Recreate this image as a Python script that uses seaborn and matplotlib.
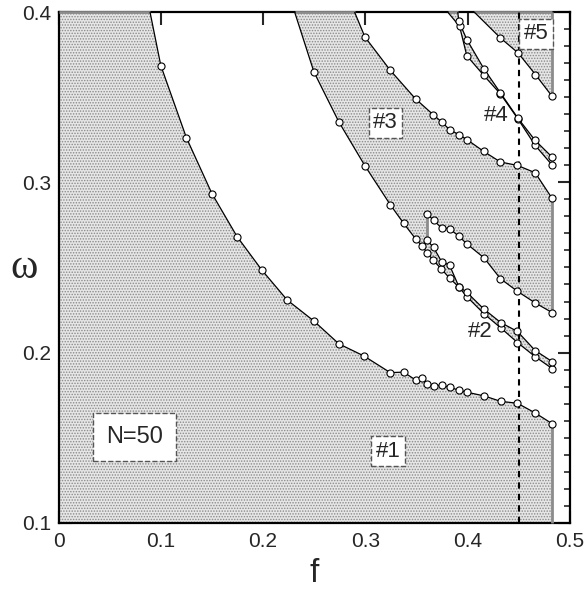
import numpy as np
import pandas as pd
import seaborn as sns
import matplotlib
matplotlib.use('Agg')
import matplotlib.pyplot as plt
from matplotlib.ticker import MultipleLocator, NullLocator

sns.set_style('ticks')
plt.rcParams['font.family'] = ['Liberation Sans', 'DejaVu Sans']
plt.rcParams['hatch.linewidth'] = 0.7

# ---- data (f, omega) ----
w_top, w_bot, f_edge = 0.4, 0.1, 0.4825

# boundary of region #1 (first point = where it leaves the top of the frame)
c1_f = [0.0895, 0.100, 0.125, 0.150, 0.1745, 0.1986, 0.2235, 0.2497, 0.2741, 0.2985,
        0.3243, 0.3373, 0.3490, 0.3556, 0.3604, 0.3666, 0.3744, 0.3822, 0.3913,
        0.3991, 0.4161, 0.4323, 0.4486, 0.4659, 0.4825]
c1_w = [0.400, 0.3687, 0.3263, 0.2934, 0.2682, 0.2486, 0.2309, 0.2185, 0.2051, 0.1980,
        0.1882, 0.1885, 0.1839, 0.1851, 0.1814, 0.1804, 0.1808, 0.1796, 0.1779,
        0.1767, 0.1745, 0.1713, 0.1702, 0.1645, 0.1582]

# left edge of #3, continuing as lower edge of #2
lo_f = [0.2309, 0.2497, 0.2741, 0.2995, 0.3243, 0.3373, 0.3490, 0.3556, 0.3601,
        0.3659, 0.3741, 0.3822, 0.3913, 0.3991, 0.4159, 0.4323, 0.4486, 0.4659, 0.4825]
lo_w = [0.400, 0.3649, 0.3355, 0.3098, 0.2869, 0.2760, 0.2669, 0.2624, 0.2588,
        0.2545, 0.2492, 0.2438, 0.2385, 0.2329, 0.2228, 0.2145, 0.2059, 0.1976, 0.1906]

# upper edge of #2
mid_f = [0.3603, 0.3666, 0.3744, 0.3822, 0.3913, 0.3991, 0.4159, 0.4323, 0.4486, 0.4659, 0.4825]
mid_w = [0.2660, 0.2618, 0.2535, 0.2514, 0.2388, 0.2354, 0.2255, 0.2176, 0.2124, 0.2012, 0.1947]

# lower-right edge of #3
in_f = [0.3603, 0.3666, 0.3744, 0.3822, 0.3913, 0.3991, 0.4159, 0.4320, 0.4486, 0.4659, 0.4825]
in_w = [0.2814, 0.2778, 0.2732, 0.2728, 0.2684, 0.2639, 0.2557, 0.2434, 0.2360, 0.2292, 0.2235]

# upper-right edge of #3
up_f = [0.2895, 0.2995, 0.3243, 0.3490, 0.3663, 0.3744, 0.3825, 0.3915, 0.3994,
        0.4157, 0.4320, 0.4486, 0.4659, 0.4825]
up_w = [0.400, 0.3855, 0.3659, 0.3491, 0.3398, 0.3356, 0.3309, 0.3281, 0.3251,
        0.3182, 0.3120, 0.3100, 0.3057, 0.2906]

# band #4
c4a_f = [0.3806, 0.3920, 0.3991, 0.4157, 0.4320, 0.4489, 0.4659, 0.4825]
c4a_w = [0.400, 0.3918, 0.3745, 0.3629, 0.3520, 0.3375, 0.3218, 0.3102]
c4b_f = [0.3903, 0.3913, 0.3991, 0.4157, 0.4320, 0.4489, 0.4659, 0.4825]
c4b_w = [0.400, 0.3947, 0.3840, 0.3669, 0.3526, 0.3379, 0.3247, 0.3149]

# region #5
c5_f = [0.4066, 0.4320, 0.4493, 0.4662, 0.4825]
c5_w = [0.400, 0.3849, 0.3761, 0.3634, 0.3506]

f_dash = 0.4505

labels = [('#1', 0.322, 0.142, True), ('#2', 0.4125, 0.2122, False),
          ('#3', 0.3197, 0.3351, True), ('#4', 0.4276, 0.3395, False),
          ('#5', 0.4669, 0.3875, True)]

# ---- figure ----
fig = plt.figure(figsize=(5.85, 5.91), dpi=100)
ax = fig.add_axes([0.1, 0.1156, 0.8744, 0.8636])

shade = dict(facecolor='#e6e6e6', edgecolor='#8a8a8a', hatch='......', linewidth=0, zorder=1)
# region #1
ax.fill([0, 0] + c1_f + [c1_f[-1]], [w_bot, w_top] + c1_w + [w_bot], **shade)
# region #3
ax.fill(lo_f[:8] + in_f + up_f[::-1], lo_w[:8] + in_w + up_w[::-1], **shade)
ax.fill(lo_f[6:9] + [mid_f[0], in_f[0]], lo_w[6:9] + [mid_w[0], in_w[0]], **shade)
# band #2
ax.fill(lo_f[6:] + mid_f[::-1], lo_w[6:] + mid_w[::-1], **shade)
# band #4
ax.fill(c4a_f + c4b_f[::-1], c4a_w + c4b_w[::-1], **shade)
# region #5
ax.fill(c5_f + [c5_f[-1], c5_f[0]], c5_w + [w_top, w_top], **shade)

# gray outline of the shaded regions along the frame
gray = '#8c8c8c'
edges = [([0, c1_f[0]], [w_top, w_top]),
         ([lo_f[0], up_f[0]], [w_top, w_top]),
         ([c4a_f[0], c4b_f[0]], [w_top, w_top]),
         ([c5_f[0], f_edge], [w_top, w_top]),
         ([f_edge, f_edge], [w_bot, c1_w[-1]]),
         ([f_edge, f_edge], [lo_w[-1], mid_w[-1]]),
         ([f_edge, f_edge], [in_w[-1], up_w[-1]]),
         ([f_edge, f_edge], [c4a_w[-1], c4b_w[-1]]),
         ([f_edge, f_edge], [c5_w[-1], w_top]),
         ([in_f[0], in_f[0]], [mid_w[0], in_w[0]])]
for ex, ey in edges:
    ax.plot(ex, ey, color=gray, lw=2, zorder=3, clip_on=False, solid_capstyle='butt')

# curves with open circle markers
curves = [(c1_f, c1_w), (lo_f, lo_w), (mid_f, mid_w), (in_f, in_w), (up_f, up_w),
          (c4a_f, c4a_w), (c4b_f, c4b_w), (c5_f, c5_w)]
for cf, cw in curves:
    d = pd.DataFrame({'f': cf, 'w': cw})
    sns.lineplot(data=d, x='f', y='w', sort=False, estimator=None, color='black',
                 lw=0.9, ax=ax, zorder=4)
    # the point where a curve leaves the frame has no marker
    dm = d.iloc[1:] if cw[0] == w_top else d
    sns.scatterplot(data=dm, x='f', y='w', s=26, color='white', edgecolor='black',
                    linewidth=0.8, ax=ax, zorder=5)

ax.axvline(f_dash, color='black', lw=1.5, ls=(0, (3, 2.5)), zorder=4)

for txt, x, y, boxed in labels:
    kw = dict(fontsize=16, ha='center', va='center', zorder=6)
    if boxed:
        kw['bbox'] = dict(boxstyle='square,pad=0.2', fc='white', ec='#555555', ls='--', lw=1)
    ax.text(x, y, txt, **kw)
ax.text(0.0739, 0.1504, 'N=50', fontsize=17, ha='center', va='center', zorder=6,
        bbox=dict(boxstyle='square,pad=0.55', fc='white', ec='#555555', ls='--', lw=1))

ax.set_xlim(0, 0.5)
ax.set_ylim(w_bot, w_top)
ax.set_xticks([0, 0.1, 0.2, 0.3, 0.4, 0.5])
ax.set_xticklabels(['0', '0.1', '0.2', '0.3', '0.4', '0.5'])
ax.set_yticks([0.1, 0.2, 0.3, 0.4])
ax.set_yticklabels(['0.1', '0.2', '0.3', '0.4'])
ax.yaxis.set_minor_locator(MultipleLocator(0.01))
ax.xaxis.set_minor_locator(NullLocator())
ax.tick_params(which='major', direction='in', top=True, right=True, length=9, width=1.5,
               labelsize=15)
ax.tick_params(axis='x', which='major', pad=7)
ax.tick_params(axis='y', which='major', pad=5)
ax.tick_params(which='minor', direction='in', left=True, right=True, length=4, width=1.2)
for s in ax.spines.values():
    s.set_linewidth(1.6)
    s.set_color('black')

ax.set_xlabel('f', fontsize=24, va='center')
ax.xaxis.set_label_coords(0.5, -0.1)
ax.set_ylabel('ω', fontsize=30, family=['Liberation Serif', 'DejaVu Serif'], rotation=0,
              ha='center', va='center')
ax.yaxis.set_label_coords(-0.0675, 0.5)

fig.savefig('out.png', dpi=100)
